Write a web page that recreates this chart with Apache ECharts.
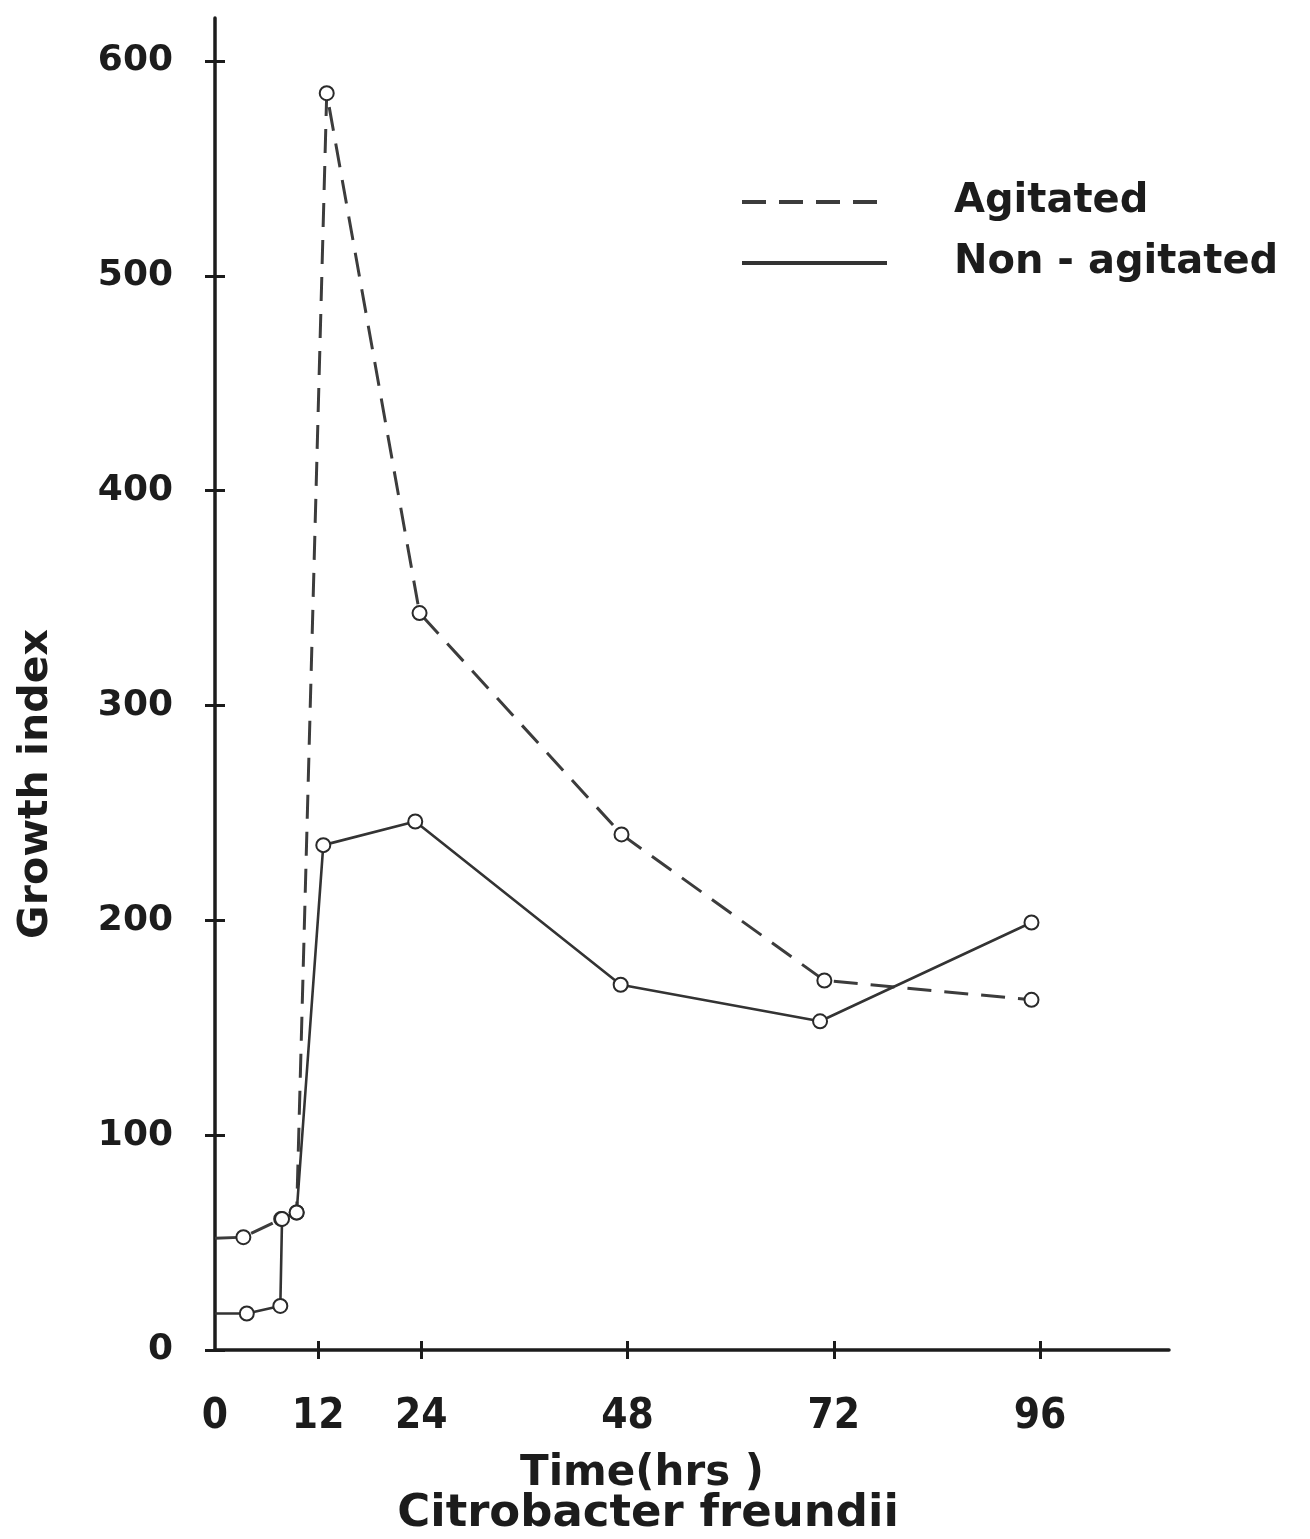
<!DOCTYPE html>
<html><head><meta charset="utf-8">
<script src="https://cdn.jsdelivr.net/npm/echarts@6/dist/echarts.min.js"></script>
<style>html,body{margin:0;padding:0;background:#fff}#c{width:1310px;height:1539px}</style>
</head><body><div id="c"></div>
<script>
// ---- data ----
const seriesNames = ['Agitated', 'Non - agitated'];
const agitatedHours = [0, 3.3, 7.7, 9.5, 13.0, 23.8, 47.3, 70.9, 95.0];
const agitatedValues = [52, 52.5, 61, 64, 585, 343, 240, 172, 163];
const nonAgitatedHours = [0, 3.7, 7.6, 7.8, 9.5, 12.6, 23.3, 47.2, 70.4, 95.0];
const nonAgitatedValues = [17, 17, 20.5, 61, 64, 235, 246, 170, 153, 199];
const xTickValues = [12, 24, 48, 72, 96];
const xLabelValues = [0, 12, 24, 48, 72, 96];
const yTickValues = [0, 100, 200, 300, 400, 500, 600];
const xTitle = 'Time(hrs )';
const yTitle = 'Growth index';
const subTitle = 'Citrobacter freundii';

const ink = '#1c1c1c';
const boldFont = "'DejaVu Sans', sans-serif";
const narrowFont = "'Liberation Sans Narrow', 'DejaVu Sans Condensed', 'Liberation Sans', sans-serif";

function build(hours, values) {
  return hours.map((h, i) => i === 0 ? { value: [h, values[i]], symbol: 'none' } : [h, values[i]]);
}

const chart = echarts.init(document.getElementById('c'), null, { renderer: 'canvas' });
const gridBox = { left: 215, right: 141, top: 18, bottom: 189 };
chart.setOption({
  backgroundColor: '#ffffff',
  animation: false,
  title: {
    text: subTitle, left: 643, top: 1487, textAlign: 'center',
    textStyle: { fontFamily: boldFont, fontWeight: 'bold', fontSize: 45, color: ink }
  },
  legend: {
    orient: 'vertical', left: 735, top: 177, itemWidth: 145, itemHeight: 20, itemGap: 21,
    itemStyle: { opacity: 0 },
    lineStyle: { width: 4 },
    textStyle: { fontFamily: boldFont, fontWeight: 'bold', fontSize: 40, color: ink, padding: [0, 0, 0, 62] },
    data: seriesNames
  },
  grid: gridBox,
  xAxis: [{
    type: 'value', min: 0, max: 111,
    axisLine: { show: true, lineStyle: { color: ink, width: 3.5 } },
    axisTick: { show: true, length: 9, customValues: xTickValues, lineStyle: { color: ink, width: 3 } },
    axisLabel: { customValues: xLabelValues, margin: 46, fontFamily: narrowFont, fontWeight: 'bold', fontSize: 42, color: ink },
    splitLine: { show: false },
    name: xTitle, nameLocation: 'middle', nameGap: 103,
    nameTextStyle: { fontFamily: boldFont, fontWeight: 'bold', fontSize: 42, color: ink, padding: [0, 100, 0, 0] }
  }, {
    type: 'value', min: 0, max: 111, position: 'bottom',
    axisLine: { show: false },
    axisTick: { show: true, inside: true, length: 9, customValues: xTickValues, lineStyle: { color: ink, width: 3 } },
    axisLabel: { show: false }, splitLine: { show: false }
  }],
  yAxis: [{
    type: 'value', min: 0, max: 620, interval: 100,
    axisLine: { show: true, lineStyle: { color: ink, width: 3.5 } },
    axisTick: { show: true, length: 10, customValues: yTickValues, lineStyle: { color: ink, width: 3 } },
    axisLabel: { customValues: yTickValues, margin: 42, fontFamily: boldFont, fontWeight: 'bold', fontSize: 36, color: ink },
    splitLine: { show: false },
    name: yTitle, nameLocation: 'middle', nameRotate: 90, nameGap: 158,
    nameTextStyle: { fontFamily: boldFont, fontWeight: 'bold', fontSize: 41, color: ink, padding: [0, 200, 0, 0] }
  }, {
    type: 'value', min: 0, max: 620, interval: 100, position: 'left',
    axisLine: { show: false },
    axisTick: { show: true, inside: true, length: 10, customValues: yTickValues, lineStyle: { color: ink, width: 3 } },
    axisLabel: { show: false }, splitLine: { show: false }
  }],
  series: [{
    name: seriesNames[0], type: 'line', xAxisIndex: 0, yAxisIndex: 0,
    data: build(agitatedHours, agitatedValues),
    symbol: 'emptyCircle', symbolSize: 14,
    lineStyle: { color: '#3c3c3c', width: 3, type: [24, 13] },
    itemStyle: { color: '#2a2a2a', borderWidth: 2.5 },
    z: 3
  }, {
    name: seriesNames[1], type: 'line', xAxisIndex: 0, yAxisIndex: 0,
    data: build(nonAgitatedHours, nonAgitatedValues),
    symbol: 'emptyCircle', symbolSize: 14,
    lineStyle: { color: '#333333', width: 2.6, type: 'solid' },
    itemStyle: { color: '#2a2a2a', borderWidth: 2.5 },
    z: 4
  }]
});
</script></body></html>
